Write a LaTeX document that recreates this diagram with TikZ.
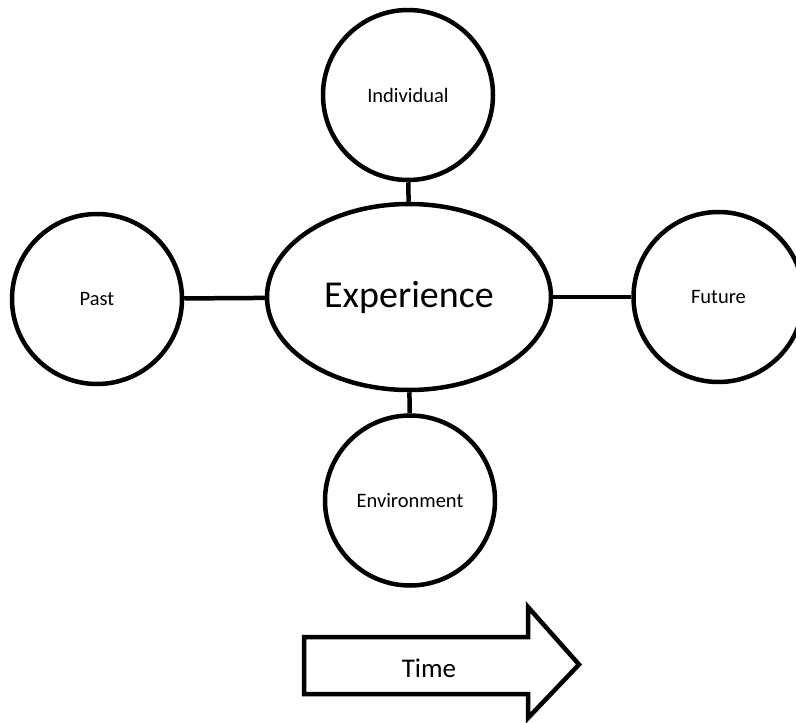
\documentclass[tikz,border=0pt]{standalone}
\usepackage{fontspec}
\setmainfont{Carlito}
\usetikzlibrary{shapes.geometric}
\begin{document}
\begin{tikzpicture}[x=1pt,y=-1pt,line width=4.5pt,
  bubble/.style={draw,circle,minimum size=170pt,inner sep=0pt,font=\fontsize{20.5}{24}\selectfont},
  hub/.style={draw,ellipse,minimum width=284pt,minimum height=186pt,inner sep=0pt,font=\fontsize{38}{44}\selectfont},
  link/.style={draw,line width=4.5pt}]
  \useasboundingbox (0,0) rectangle (796,723);
  % central idea and its four neighbours
  \node[hub] (exp) at (409,297) {Experience};
  \node[bubble] (ind) at (408,95) {Individual};
  \node[bubble] (env) at (410,500.5) {Environment};
  \node[bubble] (past) at (97,299) {Past};
  \node[bubble] (fut) at (718.5,297) {Future};
  \path[link] (ind) -- (exp);
  \path[link] (exp) -- (env);
  \path[link] (past) -- (exp);
  \path[link] (exp) -- (fut);
  % block arrow for the direction of time
  \draw[line join=miter] (304,637) -- (528,637) -- (528,607) -- (579,664.5)
    -- (528,718) -- (528,694) -- (304,694) -- cycle;
  \node[font=\fontsize{27}{32}\selectfont] (time) at (429,668) {Time};
\end{tikzpicture}
\end{document}
